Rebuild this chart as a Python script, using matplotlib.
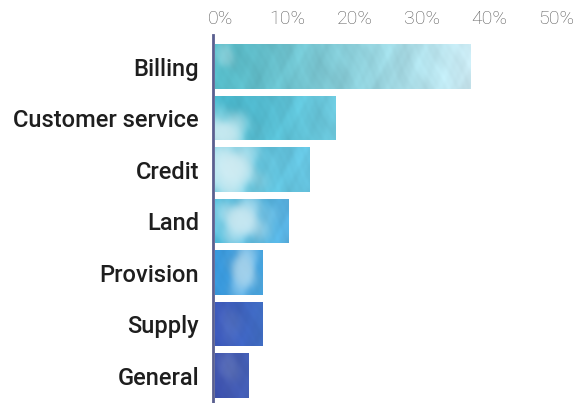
import numpy as np
import matplotlib
matplotlib.use("Agg")
import matplotlib.pyplot as plt
from matplotlib.colors import to_rgb
from matplotlib.transforms import ScaledTranslation

# Share of complaints by category (%)
categories = ["Billing", "Customer service", "Credit", "Land", "Provision", "Supply", "General"]
shares = [38, 18, 14, 11, 7, 7, 5]
tick_values = [0, 10, 20, 30, 40, 50]
tick_labels = ["0%", "10%", "20%", "30%", "40%", "50%"]

# Watercolour palette per bar: (left colour, right colour, pale wash centre, wash size, strength)
washes = [
    ("#55b9c6", "#c9e8f1", (0.04, 0.25), (0.35, 0.3), 0.3),
    ("#48b6cb", "#6fcbe0", (0.06, 0.85), (0.9, 0.45), 0.8),
    ("#5cc2da", "#66c3df", (0.15, 0.5), (1.0, 0.7), 0.85),
    ("#4bb7d6", "#5ab2e3", (0.35, 0.5), (0.9, 0.5), 0.8),
    ("#3794d6", "#46a6e2", (0.6, 0.45), (0.5, 0.6), 0.6),
    ("#3a56b6", "#4270c8", (0.3, 0.5), (0.4, 0.4), 0.1),
    ("#3b4fa9", "#4560b6", (0.4, 0.3), (0.4, 0.4), 0.15),
]


def watercolour(left, right, spot, size, strength, w, h=48):
    """Build a soft, blotchy RGB texture for one bar."""
    xs = np.linspace(0, 1, w)[None, :]
    ys = np.linspace(0, 1, h)[:, None]
    c0 = np.array(to_rgb(left))
    c1 = np.array(to_rgb(right))
    t = xs ** 1.2
    img = c0[None, None, :] * (1 - t[..., None]) + c1[None, None, :] * t[..., None]
    img = np.broadcast_to(img, (h, w, 3)).copy()
    px = xs * w / 48.0
    # layered, irregular ripples give a mottled paper look
    mod = np.zeros((h, w))
    waves = [(2.3, 1.7, 0.4, 1.0), (4.1, -3.2, 1.9, 0.7), (7.7, 5.3, 2.6, 0.5),
             (11.3, -8.9, 0.7, 0.35), (17.9, 13.1, 4.1, 0.25), (26.3, -21.7, 3.3, 0.2)]
    for fx, fy, ph, amp in waves:
        mod += amp * np.sin(fx * px + fy * ys + ph + 1.3 * np.sin(3.1 * ys + 1.7 * px))
    mod /= 2.0
    img *= (1 + 0.05 * mod)[..., None]
    sx, sy = spot
    rx, ry = size
    dx = (px - sx * w / 48.0) / rx
    dy = (ys - sy) / ry
    edge = 1 + 0.3 * np.sin(5.3 * px + 4.1 * ys + 0.5) + 0.2 * np.sin(9.7 * ys - 3.3 * px)
    blob = np.exp(-((dx ** 2 + dy ** 2) ** 1.5) / edge)
    blob = np.clip(blob * strength, 0, 0.85)
    pale = np.array(to_rgb("#e2f3f7"))
    img = img * (1 - blob[..., None]) + pale * blob[..., None]
    return np.clip(img, 0, 1)


fig = plt.figure(figsize=(5.83, 4.03), dpi=100)
ax = fig.add_axes([215 / 583, 0.0, (551 - 215) / 583, (403 - 35) / 403])

for side in ("top", "right", "bottom"):
    ax.spines[side].set_visible(False)
ax.spines["left"].set_position(("outward", 1.5))
ax.spines["left"].set_color("#5a5f8f")
ax.spines["left"].set_linewidth(2.0)

pos = np.arange(len(categories))
bars = ax.barh(pos, shares, height=0.87, color="none", edgecolor="none")

for bar, (left, right, spot, size, strength) in zip(bars, washes):
    x0, y0 = bar.get_x(), bar.get_y()
    w, h = bar.get_width(), bar.get_height()
    tex = watercolour(left, right, spot, size, strength, max(int(w * 12), 8))
    im = ax.imshow(tex, extent=[x0, x0 + w, y0 + h, y0], aspect="auto",
                   interpolation="bicubic", zorder=2)
    im.set_clip_path(bar)

ax.set_xlim(0, 50)
ax.set_ylim(6.534, -0.612)

ax.xaxis.tick_top()
ax.set_xticks(tick_values)
ax.set_xticklabels(tick_labels, fontfamily="Roboto", fontweight="light",
                   fontsize=14, color="#5c5c5c")
ax.tick_params(axis="x", length=0, pad=5)
offset = ScaledTranslation(5 / 100, 0, fig.dpi_scale_trans)
for lbl in ax.get_xticklabels():
    lbl.set_transform(lbl.get_transform() + offset)

ax.set_yticks(pos)
ax.set_yticklabels(categories, fontfamily="Roboto", fontweight="medium",
                   fontsize=17, color="#1e1e1e")
ax.tick_params(axis="y", length=0, pad=10)

fig.savefig("out.png", dpi=100)
